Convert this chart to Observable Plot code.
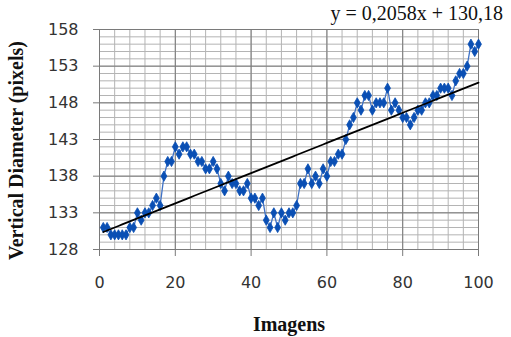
<!DOCTYPE html>
<html>
<head>
<meta charset="utf-8">
<script src="https://cdn.jsdelivr.net/npm/d3@7"></script>
<script src="https://cdn.jsdelivr.net/npm/@observablehq/plot@0.6"></script>
<style>
  html, body { margin: 0; padding: 0; background: #fff; overflow: hidden; }
  #chart svg { display: block; }
</style>
</head>
<body>
<div id="chart"></div>
<script>
// Image index (x) and vertical diameter in pixels (y)
const imagens = d3.range(1, 101);
const diameters = [
  131,131,130,130,130,130,130,131,131,133,
  132,133,133,134,135,134,138,140,140,142,
  141,142,142,141,141,140,140,139,139,140,
  139,137,136,138,137,137,136,136,137,135,
  135,134,135,132,131,133,131,133,132,133,
  133,134,137,137,139,137,138,137,139,138,
  140,140,141,141,143,145,146,148,147,149,
  149,147,148,148,148,150,147,148,147,146,
  146,145,146,147,147,148,148,149,149,150,
  150,150,149,151,152,152,153,156,155,156
];
// Linear trend shown in the chart
const trendSlope = [0.2058];
const trendIntercept = [130.18];
const equationLabel = ["y = 0,2058x + 130,18"];
// Axes ticks
const xTicks = [0, 20, 40, 60, 80, 100];
const yTicks = [128, 133, 138, 143, 148, 153, 158];
const xMinor = d3.range(0, 101, 4);
const yMinor = d3.range(128, 159, 1);
const xLabel = ["Imagens"];
const yLabel = ["Vertical Diameter (pixels)"];

const data = imagens.map((x, i) => ({x, y: diameters[i]}));

const serif = "'Liberation Serif', 'Times New Roman', serif";

const chart = Plot.plot({
  width: 511,
  height: 337,
  marginLeft: 99,
  marginRight: 33,
  marginTop: 29,
  marginBottom: 88,
  style: {fontFamily: "'DejaVu Sans', sans-serif", fontSize: "16px", color: "#333", background: "#fff", overflow: "visible"},
  x: {domain: [0, 100]},
  y: {domain: [128, 158]},
  marks: [
    Plot.ruleX(xMinor, {stroke: "#b4b4b4", strokeWidth: 1}),
    Plot.ruleY(yMinor, {stroke: "#b4b4b4", strokeWidth: 1}),
    Plot.ruleX(xTicks, {stroke: "#7a7a7a", strokeWidth: 1}),
    Plot.ruleY(yTicks, {stroke: "#7a7a7a", strokeWidth: 1}),
    Plot.axisX({ticks: xTicks, tickSize: 7, tickPadding: 20, label: null, stroke: "#7a7a7a", strokeOpacity: 1, fill: "#333"}),
    Plot.axisY({ticks: yTicks, tickSize: 6, tickPadding: 15, label: null, stroke: "#7a7a7a", strokeOpacity: 1, fill: "#333"}),
    Plot.line(data, {x: "x", y: "y", stroke: "#3f72c6", strokeWidth: 1.3}),
    Plot.dot(data, {x: "x", y: "y", symbol: "diamond", r: 3.1, fill: "#0a4fb4", stroke: "#0a4fb4", strokeWidth: 0.8}),
    Plot.line(data, {x: "x", y: d => trendIntercept[0] + trendSlope[0] * d.x, stroke: "#000", strokeWidth: 1.8}),
    Plot.text(equationLabel, {frameAnchor: "top-left", textAnchor: "start", lineAnchor: "middle", dx: 231, dy: -16, fontFamily: serif, fontSize: 20, fill: "#111"}),
    Plot.text(xLabel, {frameAnchor: "bottom", textAnchor: "middle", lineAnchor: "middle", dy: 75, fontFamily: serif, fontSize: 20, fontWeight: "bold", fill: "#111"}),
    Plot.text(yLabel, {frameAnchor: "left", rotate: -90, textAnchor: "middle", lineAnchor: "middle", dx: -83, dy: 11, fontFamily: serif, fontSize: 20, fontWeight: "bold", fill: "#111"})
  ]
});
document.getElementById("chart").append(chart);
</script>
</body>
</html>
